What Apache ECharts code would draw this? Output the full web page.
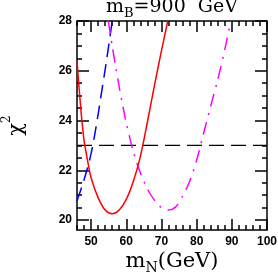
<!DOCTYPE html>
<html><head><meta charset="utf-8">
<script src="https://cdn.jsdelivr.net/npm/echarts@6/dist/echarts.min.js"></script>
<style>html,body{margin:0;padding:0;background:#fff}#c{width:278px;height:277px}</style>
</head><body><div id="c"></div>
<script>
// ---- data ----
const redX = [46, 47, 48, 49, 50, 52, 54, 56, 58, 60, 62, 64, 66, 68, 70, 71.8];
const redY = [26.4, 24.6, 23.2, 22.4, 21.7, 20.9, 20.4, 20.25, 20.4, 20.83, 21.55, 22.55, 23.93, 25.4, 26.8, 28];
const blueX = [46, 47, 48, 49, 50, 51, 52, 53, 54, 55, 56];
const blueY = [20.78, 21.18, 21.62, 22.1, 22.67, 23.4, 24.25, 25.15, 26.05, 27.0, 28.0];
const magX = [54.9, 56, 57, 58, 59, 60, 61, 62, 63, 64, 66, 68, 70, 72, 74, 76, 78, 80, 82, 84, 86, 88, 89.7];
const magY = [28, 27.0, 26.15, 25.35, 24.6, 23.9, 23.3, 22.75, 22.3, 21.9, 21.25, 20.8, 20.5, 20.4, 20.52, 20.95, 21.55, 22.4, 23.5, 24.58, 25.64, 26.85, 28];
const refX = [46, 100];
const refY = [23, 23];
const xRange = [46, 100];
const yRange = [19.6, 28];
const xMajorTicks = [50, 60, 70, 80, 90, 100];
const yMajorTicks = [20, 22, 24, 26, 28];

// ---- layout ----
const L = 77, R = 267, T = 21, B = 230;
const px = v => L + (v - xRange[0]) / (xRange[1] - xRange[0]) * (R - L);
const py = v => B - (v - yRange[0]) / (yRange[1] - yRange[0]) * (B - T);
const xm0 = xMajorTicks[0], xm1 = xMajorTicks[xMajorTicks.length - 1];
const ym0 = yMajorTicks[0], ym1 = yMajorTicks[yMajorTicks.length - 1];

const blk = { color: '#000', width: 1.5 };
const serif = 'DejaVu Serif';
const tickFont = { fontFamily: 'Liberation Sans', fontWeight: 'bold', fontSize: 12, color: '#000' };

const zip = (xs, ys) => xs.map((x, i) => [x, ys[i]]);
const tok = (size, h) => ({ fontFamily: serif, fontSize: size, color: '#000', verticalAlign: 'bottom', height: h, lineHeight: 20 });

const chart = echarts.init(document.getElementById('c'), null, { renderer: 'canvas' });
chart.setOption({
  animation: false,
  backgroundColor: '#fff',
  grid: [
    { left: L, top: T, width: R - L, height: B - T, containLabel: false, outerBoundsMode: 'none' },
    { left: px(xm0), top: py(ym1), width: px(xm1) - px(xm0), height: py(ym0) - py(ym1), containLabel: false, outerBoundsMode: 'none' }
  ],
  xAxis: [
    { gridIndex: 0, type: 'value', position: 'bottom', min: xRange[0], max: xRange[1], interval: 2,
      axisLine: { lineStyle: blk }, axisTick: { inside: true, length: 5, lineStyle: blk },
      axisLabel: { show: false }, splitLine: { show: false },
      name: '{m|m}{s|N}{m|(GeV)}', nameLocation: 'middle', nameGap: 23,
      nameTextStyle: { rich: { m: tok(21, 22), s: tok(14, 10) } } },
    { gridIndex: 0, type: 'value', position: 'top', min: xRange[0], max: xRange[1], interval: 2,
      axisLine: { lineStyle: blk }, axisTick: { inside: true, length: 5, lineStyle: blk },
      axisLabel: { show: false }, splitLine: { show: false },
      name: '{m|m}{s|B}{m|=900  GeV}', nameLocation: 'middle', nameGap: 3,
      nameTextStyle: { rich: { m: tok(19, 22), s: tok(13, 8) } } },
    { gridIndex: 1, type: 'value', position: 'bottom', offset: B - py(ym0), min: xm0, max: xm1, interval: 10,
      axisLine: { show: false }, axisTick: { inside: true, length: 11, lineStyle: blk },
      axisLabel: Object.assign({ margin: 6 }, tickFont), splitLine: { show: false } },
    { gridIndex: 1, type: 'value', position: 'top', min: xm0, max: xm1, interval: 10,
      axisLine: { show: false }, axisTick: { inside: true, length: 11, lineStyle: blk },
      axisLabel: { show: false }, splitLine: { show: false } }
  ],
  yAxis: [
    { gridIndex: 0, type: 'value', position: 'left', min: yRange[0], max: yRange[1],
      axisLine: { lineStyle: blk }, axisTick: { show: false }, axisLabel: { show: false }, splitLine: { show: false },
      name: '{c|χ}{s|2}', nameLocation: 'middle', nameGap: 49, nameRotate: 90,
      nameTextStyle: { rich: { c: tok(21, 22), s: tok(12, 43) } } },
    { gridIndex: 0, type: 'value', position: 'right', min: yRange[0], max: yRange[1],
      axisLine: { lineStyle: blk }, axisTick: { show: false }, axisLabel: { show: false }, splitLine: { show: false } },
    { gridIndex: 1, type: 'value', position: 'left', offset: px(xm0) - L, min: ym0, max: ym1, interval: 2,
      axisLine: { show: false }, axisTick: { inside: true, length: 12, lineStyle: blk },
      minorTick: { show: true, splitNumber: 4, length: 5, lineStyle: blk },
      axisLabel: Object.assign({ margin: 5 }, tickFont), splitLine: { show: false } },
    { gridIndex: 1, type: 'value', position: 'right', min: ym0, max: ym1, interval: 2,
      axisLine: { show: false }, axisTick: { inside: true, length: 12, lineStyle: blk },
      minorTick: { show: true, splitNumber: 4, length: 5, lineStyle: blk },
      axisLabel: { show: false }, splitLine: { show: false } }
  ],
  series: [
    { type: 'line', xAxisIndex: 0, yAxisIndex: 0, data: zip(refX, refY), showSymbol: false, silent: true,
      lineStyle: { color: '#000', width: 1.3, type: [15, 7] } },
    { type: 'line', xAxisIndex: 0, yAxisIndex: 0, data: zip(blueX, blueY), showSymbol: false, smooth: 0.3,
      lineStyle: { color: '#0000ff', width: 1.5, type: [14, 7] } },
    { type: 'line', xAxisIndex: 0, yAxisIndex: 0, data: zip(magX, magY), showSymbol: false, smooth: 0.3,
      lineStyle: { color: '#ff00ff', width: 1.5, type: [13, 7, 2, 7] } },
    { type: 'line', xAxisIndex: 0, yAxisIndex: 0, data: zip(redX, redY), showSymbol: false, smooth: 0.3,
      lineStyle: { color: '#ff0000', width: 1.5 } }
  ]
});
</script></body></html>
